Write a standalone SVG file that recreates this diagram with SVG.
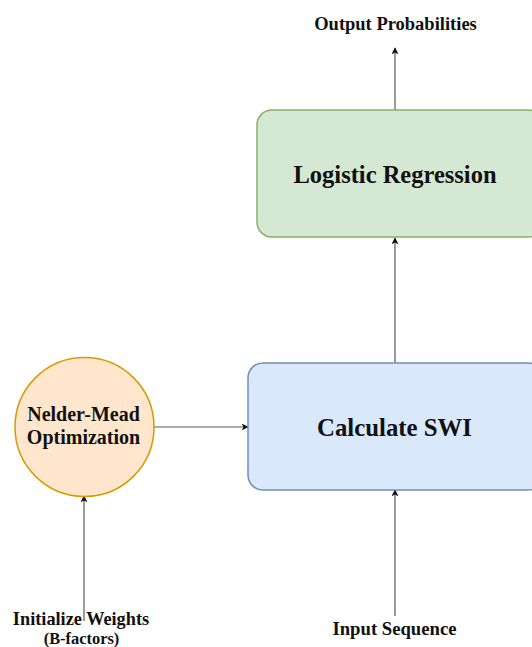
<svg xmlns="http://www.w3.org/2000/svg" width="532" height="647" viewBox="0 0 532 647">
  <defs>
    <marker id="arrow" viewBox="0 0 10 10" refX="9" refY="5" markerWidth="7" markerHeight="7" orient="auto" markerUnits="userSpaceOnUse">
      <path d="M0,0 L10,5 L0,10 L2.5,5 Z" fill="#111"/>
    </marker>
  </defs>
  <style>
    .t { font-family: 'Liberation Serif', 'DejaVu Serif', serif; font-weight: 700; fill: #111; text-anchor: middle; }
    .edge { fill: none; stroke: #5a5a5a; stroke-width: 1.2; marker-end: url(#arrow); }
  </style>
  <rect width="532" height="647" fill="#ffffff"/>

  <g id="connectors">
    <line class="edge" x1="395" y1="110" x2="395" y2="48"/>
    <line class="edge" x1="395" y1="363" x2="395" y2="238"/>
    <line class="edge" x1="154" y1="427" x2="248" y2="427"/>
    <line class="edge" x1="395" y1="616" x2="395" y2="490"/>
    <line class="edge" x1="84" y1="621" x2="84" y2="496"/>
  </g>

  <g id="output-probabilities">
    <text class="t" x="395.5" y="29.5" font-size="18.5">Output Probabilities</text>
  </g>

  <g id="logistic-regression">
    <rect x="257" y="110" width="286" height="127" rx="15" fill="#d5e8d4" stroke="#82b366" stroke-width="1.5"/>
    <text class="t" x="395" y="183" font-size="24.5">Logistic Regression</text>
  </g>

  <g id="calculate-swi">
    <rect x="248" y="363" width="295" height="127" rx="15" fill="#dae8fc" stroke="#6c8ebf" stroke-width="1.5"/>
    <text class="t" x="394.5" y="436" font-size="24.8">Calculate SWI</text>
  </g>

  <g id="nelder-mead">
    <circle cx="84.5" cy="427" r="69.5" fill="#ffe6cc" stroke="#d79b00" stroke-width="1.5"/>
    <text class="t" x="83.5" y="421" font-size="20">Nelder-Mead</text>
    <text class="t" x="83.5" y="443.5" font-size="20">Optimization</text>
  </g>

  <g id="initialize-weights">
    <text class="t" x="81" y="625" font-size="18.3">Initialize Weights</text>
    <text class="t" x="81.5" y="644" font-size="16.4">(B-factors)</text>
  </g>

  <g id="input-sequence">
    <text class="t" x="394.5" y="635" font-size="18.7">Input Sequence</text>
  </g>
</svg>
